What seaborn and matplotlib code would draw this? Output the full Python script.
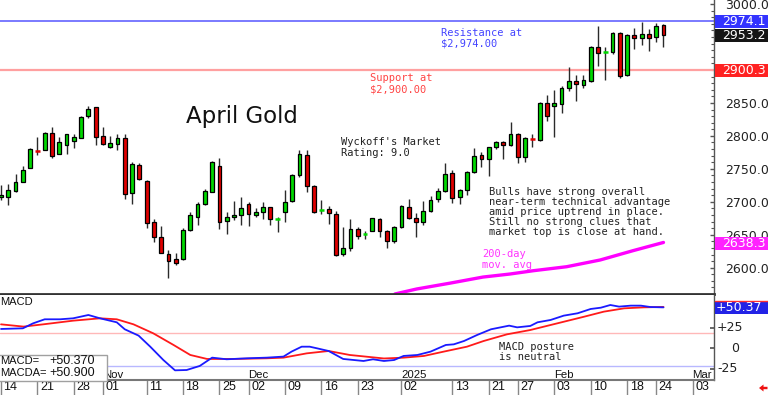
import numpy as np
import pandas as pd
import matplotlib
matplotlib.use("Agg")
import matplotlib.pyplot as plt
import matplotlib.transforms as mtransforms
from matplotlib.patches import Rectangle, Polygon
import seaborn as sns

# ---------------- data ----------------
# trading-day index 0 = 2024-10-14 ... 91 = 2025-02-25
day = list(range(92))
open_ = [2706.8, 2706.8, 2716.9, 2730.6, 2751.8, 2778.0, 2779.1, 2804.4, 2772.5, 2785.7,
         2792.3, 2797.3, 2830.7, 2843.4, 2799.3, 2783.2, 2788.2, 2796.3, 2712.9, 2756.4,
         2732.1, 2668.9, 2646.1, 2620.8, 2613.2, 2613.2, 2657.2, 2677.5, 2696.7, 2715.4,
         2754.8, 2671.4, 2676.9, 2680.0, 2696.7, 2680.0, 2684.0, 2691.6, 2673.0, 2684.0,
         2701.7, 2740.7, 2770.5, 2724.0, 2687.0, 2688.6, 2681.5, 2620.3, 2630.4, 2658.2,
         2650.6, 2656.2, 2673.9, 2655.7, 2641.0, 2662.3, 2692.6, 2674.9, 2669.4, 2686.0,
         2703.7, 2716.4, 2743.2, 2706.8, 2717.9, 2744.7, 2771.0, 2764.5, 2782.7, 2791.3,
         2786.2, 2802.9, 2768.5, 2796.8, 2793.8, 2849.4, 2845.4, 2848.4, 2872.2, 2883.3,
         2877.3, 2883.3, 2935.4, 2926.3, 2926.8, 2956.7, 2892.4, 2953.1, 2949.1, 2954.6,
         2949.6, 2967.8]
high = [2725.5, 2726.5, 2742.7, 2754.4, 2781.2, 2797.8, 2805.4, 2813.0, 2798.4, 2803.4,
        2803.4, 2830.2, 2845.4, 2843.4, 2813.5, 2799.3, 2802.4, 2802.4, 2760.9, 2758.4,
        2733.1, 2673.9, 2663.8, 2626.9, 2621.8, 2659.8, 2685.1, 2700.2, 2719.0, 2761.9,
        2767.0, 2685.1, 2701.7, 2707.8, 2699.7, 2690.1, 2700.2, 2692.6, 2677.5, 2717.9,
        2741.7, 2778.6, 2778.6, 2725.0, 2702.7, 2693.6, 2686.1, 2661.3, 2673.9, 2661.3,
        2655.7, 2675.9, 2674.9, 2657.2, 2663.3, 2695.1, 2703.7, 2683.5, 2700.7, 2709.3,
        2720.4, 2759.4, 2748.3, 2719.4, 2746.7, 2781.6, 2775.1, 2783.7, 2792.8, 2792.8,
        2820.6, 2803.9, 2797.8, 2802.4, 2851.0, 2862.1, 2869.7, 2876.2, 2904.1, 2892.4,
        2892.4, 2936.4, 2967.3, 2934.4, 2957.7, 2957.2, 2954.1, 2963.2, 2972.8, 2962.2,
        2971.8, 2969.8]
low = [2702.8, 2695.2, 2715.4, 2729.6, 2750.8, 2771.0, 2778.1, 2767.0, 2772.0, 2772.5,
       2781.2, 2796.3, 2826.7, 2786.7, 2786.2, 2782.2, 2778.1, 2704.8, 2696.7, 2732.6,
       2659.8, 2638.5, 2621.8, 2583.9, 2604.1, 2612.2, 2656.2, 2664.8, 2695.7, 2714.4,
       2658.8, 2650.7, 2672.4, 2664.8, 2663.3, 2677.0, 2673.4, 2664.8, 2653.7, 2669.9,
       2700.2, 2738.2, 2715.4, 2682.5, 2681.5, 2666.3, 2617.8, 2618.3, 2625.4, 2643.1,
       2644.0, 2655.2, 2647.1, 2629.9, 2637.0, 2659.8, 2673.4, 2647.1, 2664.8, 2684.5,
       2700.2, 2715.4, 2698.7, 2696.2, 2710.3, 2743.2, 2753.3, 2739.7, 2780.1, 2765.0,
       2785.2, 2758.4, 2760.9, 2782.7, 2792.8, 2822.6, 2798.9, 2835.3, 2868.1, 2853.0,
       2873.2, 2882.3, 2906.1, 2884.8, 2924.3, 2888.4, 2890.9, 2932.4, 2938.0, 2928.8,
       2943.0, 2935.4]
close = [2710.3, 2717.9, 2730.6, 2748.8, 2780.1, 2777.0, 2804.4, 2770.0, 2791.3, 2802.4,
         2797.8, 2828.2, 2840.3, 2798.8, 2787.2, 2788.7, 2796.3, 2711.9, 2757.4, 2734.6,
         2668.4, 2646.1, 2622.9, 2610.7, 2607.6, 2657.2, 2680.0, 2696.7, 2716.4, 2760.9,
         2669.9, 2676.9, 2680.0, 2691.1, 2681.5, 2684.5, 2691.6, 2673.4, 2673.8, 2700.2,
         2740.7, 2772.0, 2724.5, 2685.0, 2687.8, 2682.5, 2619.3, 2629.4, 2658.7, 2648.6,
         2651.5, 2674.9, 2655.7, 2640.5, 2661.3, 2693.6, 2674.9, 2669.9, 2686.6, 2702.7,
         2716.4, 2741.7, 2705.3, 2717.9, 2745.7, 2770.0, 2764.9, 2782.7, 2791.3, 2786.7,
         2802.9, 2768.5, 2796.3, 2795.8, 2850.4, 2829.7, 2849.4, 2872.2, 2883.3, 2878.3,
         2884.3, 2935.4, 2925.3, 2927.3, 2956.7, 2890.9, 2953.1, 2948.1, 2954.1, 2949.1,
         2967.3, 2953.2]

# 200-day moving average (read points)
ma_day = [54.1, 57.1, 61.7, 66.2, 69.9, 73.1, 77.7, 82.3, 86.8, 91]
ma_val = [2560.1, 2567.7, 2576.6, 2585.8, 2590.4, 2595.4, 2601.5, 2611.7, 2625.8, 2638.3]

# MACD (blue) and MACD average (red), read points
macd_day = [0, 3, 4.4, 6, 8.1, 9.9, 12, 13.6, 15.9, 17, 18.9, 20.5, 22.3, 23.9, 25.5, 27.3,
            29, 31, 33.8, 36.5, 38.8, 39.9, 41.3, 42.4, 43.4, 45, 47, 49.8, 51.1, 52.6, 54,
            55.3, 57.2, 59, 61.1, 62.2, 63.6, 65.4, 67.3, 69.8, 70.9, 72.7, 73.7, 75.5, 77.3,
            79.2, 81, 82.4, 83.7, 84.9, 86.5, 87.9, 89.2, 91]
macd_val = [23.8, 24.6, 30.7, 35.7, 35.7, 36.9, 41.0, 36.9, 32.0, 23.4, 15.6, 2.0, -14.4,
            -27.1, -26.7, -21.7, -11.5, -13.5, -12.3, -11.5, -10.2, -4.1, 2.0, 2.0, 0.0, -3.3,
            -13.1, -15.6, -13.5, -15.6, -14.4, -9.4, -8.2, -4.1, 4.1, 4.9, 9.0, 16.4, 23.4,
            27.9, 25.8, 27.5, 32.0, 34.9, 40.2, 43.1, 48.4, 50.0, 53.3, 51.3, 52.5, 52.5,
            50.8, 50.37]
sig_day = [0, 3.1, 5.8, 9.9, 13.6, 15.9, 18.2, 20.9, 23.7, 26.0, 28.3, 31.9, 36.5, 38.8,
           42.0, 45.0, 47.9, 52.6, 55.3, 58.1, 60.8, 64.0, 66.3, 69.5, 72.7, 76.4, 80.1,
           82.8, 85.6, 88.3, 91]
sig_val = [29.5, 26.7, 29.5, 34.0, 36.9, 35.7, 29.5, 18.5, 4.1, -8.2, -13.1, -13.1, -12.3,
           -11.5, -6.2, -3.3, -8.2, -12.5, -11.5, -9.4, -4.1, 2.0, 9.0, 17.2, 22.5, 30.7,
           38.9, 45.1, 49.2, 50.4, 50.9]

# date axis
tick_days = [0, 5, 10, 14, 20, 25, 30, 34, 39, 44, 49, 55, 62, 67, 71, 76, 81, 86, 90, 95]
tick_labels = ["14", "21", "28", "01", "11", "18", "25", "02", "09", "16", "23", "02",
               "13", "21", "27", "03", "10", "18", "24", "03"]
month_days = [14, 34, 55, 76, 95]
month_labels = ["Nov", "Dec", "2025", "Feb", "Mar"]

resistance = 2974.1
support = 2900.3
last_price = 2953.2
ma_last = 2638.3
price_ticks = [2600, 2650, 2700, 2750, 2800, 2850, 3000]
macd_ticks = [25, 0, -25]
macd_last = 50.37
macda_last = 50.90
macd_upper, macd_lower = 18.5, -21.5

# ---------------- figure ----------------
sns.set_theme(style="white")
plt.rcParams["font.family"] = ["DejaVu Sans"]

W, H = 768, 395
fig = plt.figure(figsize=(W / 100, H / 100), dpi=100)
fig.patch.set_facecolor("white")


def fx(x):
    return x / W


def fy(y):
    return 1 - y / H


ax = fig.add_axes([0, fy(294), fx(714), 294 / H])
axm = fig.add_axes([0, fy(380), fx(714), (380 - 295) / H])
for a in (ax, axm):
    a.set_facecolor("white")
    a.set_xlim(-0.14, 97.94)
    for s in a.spines.values():
        s.set_visible(False)
    a.spines["right"].set_visible(True)
    a.spines["right"].set_color("#555555")
    a.spines["right"].set_linewidth(1)

ax.set_ylim(2560.1, 3006.2)
axm.set_ylim(-39.0, 65.6)
ax.spines["bottom"].set_visible(True)
ax.spines["bottom"].set_color("#333333")
ax.spines["bottom"].set_linewidth(2)
axm.spines["bottom"].set_visible(True)
axm.spines["bottom"].set_color("#777777")
axm.spines["bottom"].set_linewidth(1.5)

df = pd.DataFrame({"day": day, "open": open_, "high": high, "low": low, "close": close})
GREEN, RED = "#00d800", "#e00000"
up = df["close"] >= df["open"]
doji = (df["close"] - df["open"]).abs() < 1.5
colors = np.where(up, GREEN, RED)

ax.axhline(resistance, color="#7070ff", lw=1.3, zorder=1)
ax.axhline(support, color="#ffa0a0", lw=1.6, zorder=1)

ax.vlines(df["day"], df["low"], df["high"], color="#2a2a2a", lw=1.0, zorder=2)
body = ~doji
ax.bar(df["day"][body], (df["close"] - df["open"]).abs()[body],
       bottom=np.minimum(df["open"], df["close"])[body], width=0.52,
       color=colors[body], edgecolor="black", linewidth=0.9, zorder=3)
ax.hlines(df["close"][doji], df["day"][doji] - 0.32, df["day"][doji] + 0.32,
          colors=colors[doji], lw=1.8, zorder=3)

sns.lineplot(x=ma_day, y=ma_val, ax=ax, color="#ff00ff", lw=2.4, zorder=2)
ax.set_xlabel("")
ax.set_ylabel("")

# price axis ticks on the right
ax.yaxis.tick_right()
ax.set_yticks(price_ticks)
ax.set_yticklabels([f"{v:.1f}" for v in price_ticks])
ax.set_yticks(np.arange(2570, 3010, 10), minor=True)
ax.tick_params(axis="y", which="major", direction="in", length=3, width=1, color="#555555",
               pad=8, labelsize=9, labelcolor="#222222", right=True, left=False)
ax.tick_params(axis="y", which="minor", direction="in", length=2, width=0.8, color="#555555",
               right=True, left=False)
ax.set_xticks([])

# right-hand value boxes
btr = mtransforms.blended_transform_factory(ax.transAxes, ax.transData)
box_h = 13.3 * (3006.2 - 2560.1) / 294
for val, txt, fc in [(2974.1, f"{resistance:.1f}", "#3333ff"),
                     (last_price - 0.8, f"{last_price:.1f}", "#151515"),
                     (support - 0.6, f"{support:.1f}", "#ff2222"),
                     (ma_last - 2.0, f"{ma_last:.1f}", "#ff22ff")]:
    ax.add_patch(Rectangle((1.0015, val - box_h / 2), 60 / 714, box_h, transform=btr,
                           facecolor=fc, edgecolor="none", clip_on=False, zorder=5))
    ax.text(722 / 714, val, txt, transform=btr, color="white", fontsize=9, va="center",
            ha="left", zorder=6, clip_on=False)

# ---------------- MACD panel ----------------
axm.axhline(macd_upper, color="#ffb8b8", lw=1, zorder=1)
axm.axhline(macd_lower, color="#b8b8ff", lw=1, zorder=1)
sns.lineplot(x=sig_day, y=sig_val, ax=axm, color="#ff1a1a", lw=1.3, zorder=3)
sns.lineplot(x=macd_day, y=macd_val, ax=axm, color="#1a1aff", lw=1.3, zorder=4)
axm.set_xlabel("")
axm.set_ylabel("")
axm.yaxis.tick_right()
axm.set_yticks(macd_ticks)
axm.set_yticklabels([])
axm.tick_params(axis="y", direction="in", length=3, color="#555555", right=True, left=False)
axm.set_xticks(tick_days)
axm.set_xticklabels([])
axm.tick_params(axis="x", direction="out", length=11, width=1, color="#888888",
                bottom=True)

mtr = mtransforms.blended_transform_factory(axm.transAxes, axm.transData)
mbox_h = 12.6 / 0.813
axm.add_patch(Rectangle((1.0015, macd_last - mbox_h / 2), 60 / 714, mbox_h, transform=mtr,
                        facecolor="#2222e6", edgecolor="none", clip_on=False, zorder=5))
axm.plot([1.0015, 1.09], [macd_last + mbox_h / 2] * 2, transform=mtr, color="#ff3030",
         lw=1, clip_on=False, zorder=6)
axm.text(716 / 714, macd_last, f"+{macd_last:.2f}", transform=mtr, color="white",
         fontsize=9, va="center", ha="left", zorder=6, clip_on=False)
for v, xp in [(25, 717), (0, 731), (-25, 717)]:
    lab = "0" if v == 0 else f"{v:+d}"
    axm.text(xp / 714, v, lab, transform=mtr, color="#222222", fontsize=9,
             va="center", ha="left", clip_on=False)

# date labels
dtr = mtransforms.offset_copy(
    mtransforms.blended_transform_factory(axm.transData, fig.transFigure),
    fig=fig, x=2.5, y=0, units="dots")
mtr2 = mtransforms.offset_copy(
    mtransforms.blended_transform_factory(axm.transData, fig.transFigure),
    fig=fig, x=0.0, y=0, units="dots")
for d, lab in zip(tick_days, tick_labels):
    axm.text(d, fy(387.5), lab, transform=dtr, fontsize=9, family=["Liberation Sans"],
             color="#111111", va="center", ha="left", clip_on=False)
for d, lab in zip(month_days, month_labels):
    axm.text(d, fy(374.5), lab, transform=mtr2, fontsize=8.2, family=["Liberation Sans"],
             color="#111111", va="center", ha="left", clip_on=False, zorder=12)

# MACD legend box
fig.patches.append(Rectangle((fx(-2), fy(381)), fx(109), 26 / H, transform=fig.transFigure,
                             facecolor="white", edgecolor="#a0a0a0", lw=1, zorder=10))
for y, a, b in [(361.5, "MACD=", f"+{macd_last:.3f}"), (373, "MACDA=", f"+{macda_last:.3f}")]:
    fig.text(fx(0.5), fy(y), a, ha="left", va="center", fontsize=8,
             family=["Liberation Sans"], color="#111111", zorder=11)
    fig.text(fx(49), fy(y), b, ha="left", va="center", fontsize=9,
             family=["Liberation Sans"], color="#111111", zorder=11)
fig.text(fx(0.5), fy(302), "MACD", ha="left", va="center", fontsize=8,
         family=["Liberation Sans"], color="#111111")

# ---------------- annotations ----------------
MONO = ["DejaVu Sans Mono"]


def note(x, y, s, color="#222222"):
    fig.text(fx(x), fy(y), s, ha="left", va="center", fontsize=7.5, family=MONO,
             color=color, zorder=8)


note(441, 32.5, "Resistance at", "#4444ff")
note(441, 43, "$2,974.00", "#4444ff")
note(370, 78, "Support at", "#ff4444")
note(370, 89, "$2,900.00", "#ff4444")
note(341, 142, "Wyckoff's Market")
note(341, 152.5, "Rating: 9.0")
for yy, s in zip([192, 202, 212, 222, 232],
                 ["Bulls have strong overall", "near-term technical advantage",
                  "amid price uptrend in place.", "Still no strong clues that",
                  "market top is close at hand."]):
    note(489, yy, s)
note(482, 254, "200-day", "#ff33ff")
note(482, 264.5, "mov. avg", "#ff33ff")
note(499, 347, "MACD posture")
note(499, 357.5, "is neutral")

fig.text(fx(186), fy(122.7), "April Gold", ha="left", va="baseline", fontsize=16.5,
         family=["DejaVu Sans"], color="#111111", zorder=8)

# small red arrow, bottom right
fig.patches.append(Polygon([(fx(759), fy(388)), (fx(763.5), fy(384.5)), (fx(763.5), fy(386.8)),
                            (fx(767.5), fy(386.8)), (fx(767.5), fy(389.2)), (fx(763.5), fy(389.2)),
                            (fx(763.5), fy(391.5))], closed=True, transform=fig.transFigure,
                           facecolor="#ee1111", edgecolor="none"))

fig.savefig("out.png", dpi=100, facecolor="white")
